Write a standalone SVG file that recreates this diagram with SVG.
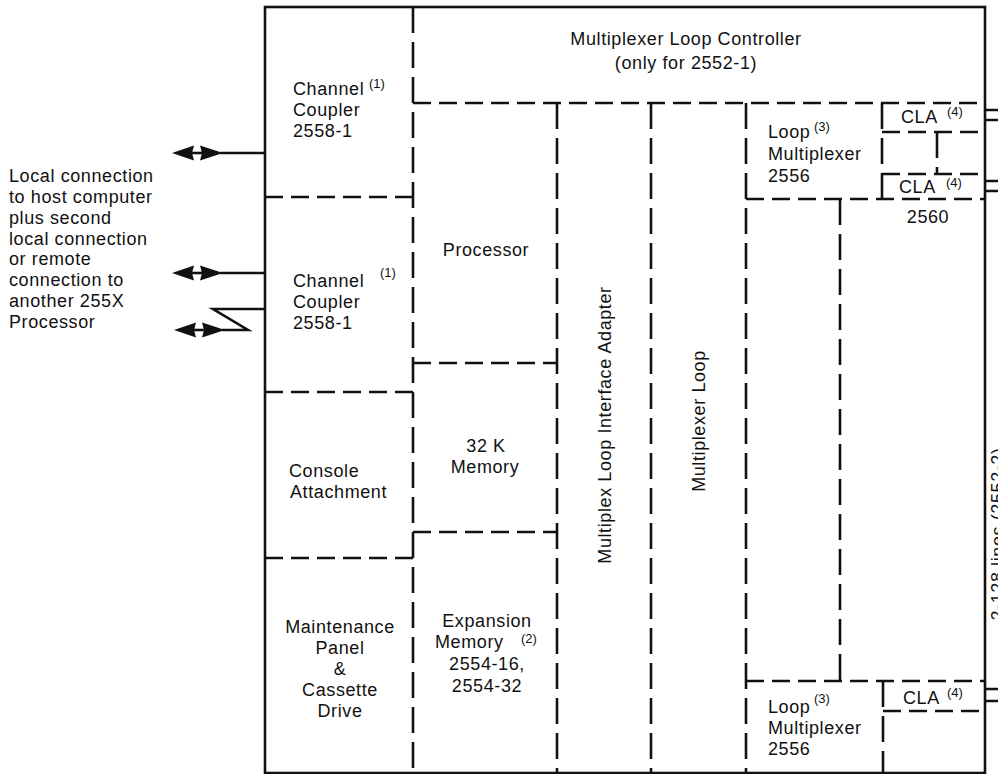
<svg xmlns="http://www.w3.org/2000/svg" xmlns:xlink="http://www.w3.org/1999/xlink" width="998" height="774" viewBox="0 0 998 774">
<style>
  .t { font-family: "Liberation Sans", Arial, sans-serif; font-size: 18px; fill: #111; letter-spacing: 0.6px; }
  .m { text-anchor: middle; }
  .sup { font-family: "Liberation Sans", Arial, sans-serif; font-size: 13px; fill: #111; }
  .solid { stroke: #111; stroke-width: 2.6; fill: none; }
  .dh { stroke: #111; stroke-width: 2.6; fill: none; stroke-dasharray: 18 8; }
  .dv { stroke: #111; stroke-width: 2.6; fill: none; stroke-dasharray: 26 9; }
  .ln { stroke: #111; stroke-width: 2.6; fill: none; }
  .ah { fill: #111; stroke: none; }
</style>
<defs>
  <g id="dbl">
    <polygon class="ah" points="0,0 22,-7.5 20,0 22,7.5"/>
    <polygon class="ah" points="28,-7.5 51,0 28,7.5 30,0"/>
    <line class="ln" x1="18" y1="0" x2="32" y2="0"/>
  </g>
</defs>
<rect x="0" y="0" width="998" height="774" fill="#fff"/>

<g id="frame">
  <rect class="solid" x="265" y="7" width="720" height="766"/>
  <path class="dh" d="M265,197 H413 M265,392 H413 M265,558 H413 M413,103 H985 M413,363 H557 M413,532 H557 M746,199 H985 M882,132 H985 M882,174 H985 M746,681 H985 M883,711 H985"/>
  <path class="dv" d="M413,7 V773 M557,103 V773 M651,103 V773 M746,103 V773 M882,103 V199 M937,132 V174 M840,199 V681 M883,681 V773"/>
  <path class="solid" d="M985,110 H998 M985,120 H998 M985,181 H998 M985,191 H998 M985,689 H998 M985,701 H998"/>
</g>

<g id="connectors">
  <use xlink:href="#dbl" x="172" y="153"/>
  <line class="ln" x1="220" y1="153" x2="265" y2="153"/>
  <use xlink:href="#dbl" x="172" y="273"/>
  <line class="ln" x1="220" y1="273" x2="265" y2="273"/>
  <use xlink:href="#dbl" x="174" y="330"/>
  <polyline class="ln" points="222,330 248,330 213,309 265,309"/>
</g>

<g id="host-connection-label">
  <text class="t" x="9" y="182">Local connection</text>
  <text class="t" x="9" y="203">to host computer</text>
  <text class="t" x="9" y="224">plus second</text>
  <text class="t" x="9" y="245">local connection</text>
  <text class="t" x="9" y="265">or remote</text>
  <text class="t" x="9" y="286">connection to</text>
  <text class="t" x="9" y="307">another 255X</text>
  <text class="t" x="9" y="328">Processor</text>
</g>

<g id="channel-coupler-1">
  <text class="t" x="293" y="95">Channel</text>
  <text class="sup" x="369" y="88">(1)</text>
  <text class="t" x="293" y="116">Coupler</text>
  <text class="t" x="293" y="137">2558-1</text>
</g>

<g id="channel-coupler-2">
  <text class="t" x="293" y="287">Channel</text>
  <text class="sup" x="380" y="277">(1)</text>
  <text class="t" x="293" y="308">Coupler</text>
  <text class="t" x="293" y="329">2558-1</text>
</g>

<g id="console-attachment">
  <text class="t" x="289" y="477">Console</text>
  <text class="t" x="290" y="498">Attachment</text>
</g>

<g id="maintenance-panel">
  <text class="t m" x="340" y="633">Maintenance</text>
  <text class="t m" x="340" y="654">Panel</text>
  <text class="t m" x="340" y="675">&amp;</text>
  <text class="t m" x="340" y="696">Cassette</text>
  <text class="t m" x="340" y="717">Drive</text>
</g>

<g id="multiplexer-loop-controller">
  <text class="t m" x="686" y="45">Multiplexer Loop Controller</text>
  <text class="t m" x="686" y="69">(only for 2552-1)</text>
</g>

<g id="processor">
  <text class="t m" x="486" y="256">Processor</text>
</g>

<g id="memory-32k">
  <text class="t m" x="486" y="452">32 K</text>
  <text class="t m" x="485" y="473">Memory</text>
</g>

<g id="expansion-memory">
  <text class="t m" x="487" y="627">Expansion</text>
  <text class="t" x="435" y="648">Memory</text>
  <text class="sup" x="521" y="643">(2)</text>
  <text class="t m" x="487" y="670">2554-16,</text>
  <text class="t m" x="487" y="692">2554-32</text>
</g>

<g id="multiplex-loop-interface-adapter">
  <text class="t m" transform="translate(611,425) rotate(-90)">Multiplex Loop Interface Adapter</text>
</g>

<g id="multiplexer-loop">
  <text class="t m" transform="translate(705,421) rotate(-90)">Multiplexer Loop</text>
</g>

<g id="loop-multiplexer-1">
  <text class="t" x="768" y="138">Loop</text>
  <text class="sup" x="814" y="131">(3)</text>
  <text class="t" x="768" y="160">Multiplexer</text>
  <text class="t" x="768" y="182">2556</text>
</g>

<g id="cla-1">
  <text class="t" x="901" y="123">CLA</text>
  <text class="sup" x="947" y="116">(4)</text>
</g>

<g id="cla-2">
  <text class="t" x="899" y="193">CLA</text>
  <text class="sup" x="946" y="187">(4)</text>
</g>

<g id="unit-2560">
  <text class="t m" x="928" y="223">2560</text>
  <text class="t m" transform="translate(1004,534) rotate(-90)">2-128 lines (2552-2)</text>
</g>

<g id="loop-multiplexer-2">
  <text class="t" x="768" y="713">Loop</text>
  <text class="sup" x="814" y="703">(3)</text>
  <text class="t" x="768" y="734">Multiplexer</text>
  <text class="t" x="768" y="755">2556</text>
</g>

<g id="cla-3">
  <text class="t" x="903" y="704">CLA</text>
  <text class="sup" x="947" y="697">(4)</text>
</g>
</svg>
